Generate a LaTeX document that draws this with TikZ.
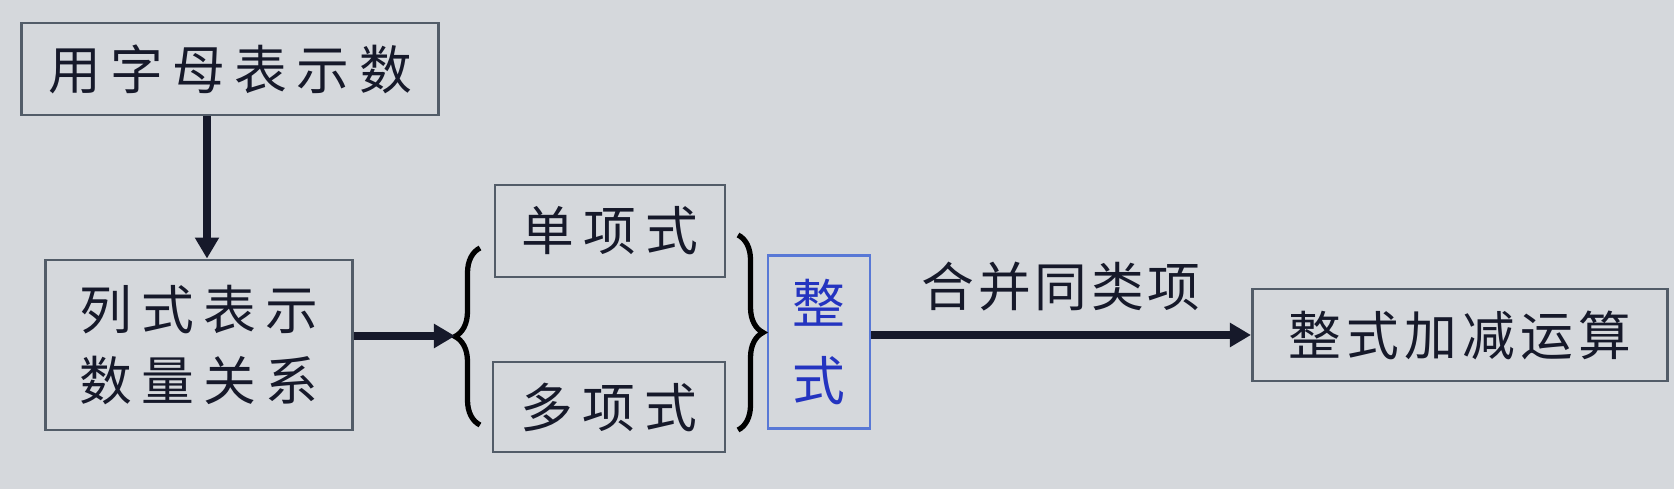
\documentclass[tikz,border=0pt]{standalone}
\usepackage{fontspec}
\newfontfamily\zh[LetterSpace=18]{Noto Sans CJK SC}
\newfontfamily\zhs[LetterSpace=10]{Noto Sans CJK SC}
\newfontfamily\zhn[LetterSpace=7]{Noto Sans CJK SC}
\usetikzlibrary{arrows.meta,decorations.pathreplacing}
\definecolor{bg}{HTML}{D5D8DC}
\definecolor{frame}{HTML}{525C68}
\definecolor{ink}{HTML}{16192A}
\definecolor{zsblue}{HTML}{5878D6}
\definecolor{zstext}{HTML}{2434C0}
\begin{document}
\begin{tikzpicture}[x=.01cm,y=-.01cm,
  box/.style={draw=frame,line width=.8pt,inner sep=0pt,text=ink,font=\zh\fontsize{15}{20}\selectfont},
  arr/.style={-{Triangle[length=.21cm,width=.23cm]},line width=2pt,draw=ink},
  brc/.style={decorate,decoration={brace,amplitude=.25cm},line width=1.5pt,draw=black}]
\fill[bg] (0,0) rectangle (1674,489);
\useasboundingbox (0,0) rectangle (1674,489);
%%%%
\node[box,minimum width=4.16cm,minimum height=.92cm] (yzm) at (230,69) {用字母表示数};
\node[box,minimum width=3.07cm,minimum height=1.70cm,align=center] (lsb) at (199,345) {列式表示\\数量关系};
\node[box,minimum width=2.30cm,minimum height=.92cm] (dxs) at (610,231) {单项式};
\node[box,minimum width=2.32cm,minimum height=.90cm] (duo) at (609,407) {多项式};
\node[box,draw=zsblue,text=zstext,minimum width=1.02cm,minimum height=1.73cm,align=center,font=\zh\fontsize{15}{22}\selectfont] (zs) at (819,342) {整\\式};
\node[box,font=\zhs\fontsize{15}{20}\selectfont,minimum width=4.15cm,minimum height=.92cm] (ys) at (1460,335) {整式加减运算};
%%%%
\coordinate (lb) at (455,336);
\draw[brc] (480,425) -- (480,248);
\draw[brc] (738,235) -- (738,430);
\draw[arr] ([xshift=-.23cm]yzm.south) -- ([xshift=-.23cm]yzm.south |- lsb.north);
\draw[arr] (lsb.east |- lb) -- (lb);
\draw[arr] (zs.east |- ys.west) -- (ys.west)
  node[midway,above=.2cm,inner sep=0pt,text=ink,font=\zhn\fontsize{15}{20}\selectfont] (hb) {合并同类项};
\end{tikzpicture}
\end{document}
